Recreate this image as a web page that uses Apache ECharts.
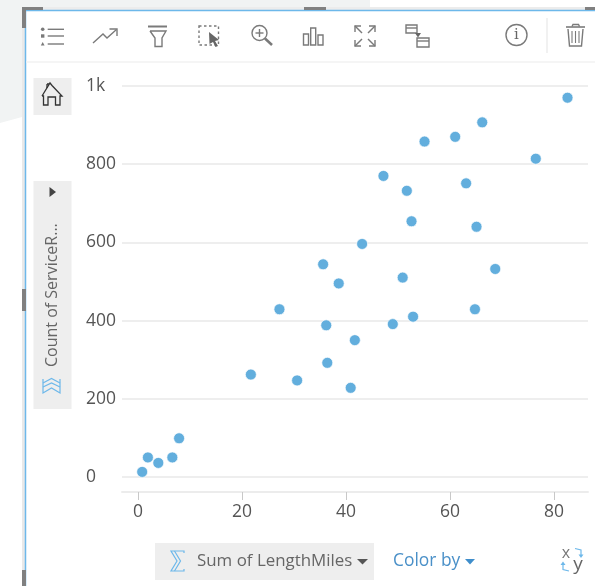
<!DOCTYPE html>
<html><head><meta charset="utf-8">
<style>html,body{margin:0;padding:0;background:#fff}#c{width:595px;height:586px;filter:blur(0.4px)}</style>
<script src="https://cdn.jsdelivr.net/npm/echarts@6/dist/echarts.min.js"></script>
</head><body><div id="c"></div>
<script>
const lengthMiles = [0.8,1.9,3.9,6.6,7.9,21.7,27.2,30.6,35.6,36.2,36.4,38.6,40.9,41.7,43.1,47.2,49,50.9,51.7,52.6,52.9,55.1,61,63.1,64.8,65.1,66.2,68.7,76.5,82.6];
const serviceCounts = [13,50,36,50,99,262,429,247,544,388,292,495,228,350,596,770,391,510,732,654,410,858,870,751,429,640,907,532,814,970];
const xTicks = [0,20,40,60,80];
const yTicks = [0,200,400,600,800,1000];
const yAxisTitle = 'Count of ServiceR...';
const xAxisTitle = 'Sum of LengthMiles';
const colorByLabel = 'Color by';

const GREY='#7a7a7a', BLUE='#6db8ea';
const stroke=(w,c)=>({stroke:c||GREY,lineWidth:w||1.4,fill:null});
const g=[];
const rect=(x,y,w,h,fill)=>g.push({type:'rect',silent:true,shape:{x,y,width:w,height:h},style:{fill}});
const line=(x1,y1,x2,y2,c,w)=>g.push({type:'line',silent:true,shape:{x1,y1,x2,y2},style:{stroke:c||GREY,lineWidth:w||1.4}});
const poly=(pts,c,w)=>g.push({type:'polyline',silent:true,shape:{points:pts},style:stroke(w,c)});
const shape=(pts,fill)=>g.push({type:'polygon',silent:true,shape:{points:pts},style:{fill}});
const box=(x,y,w,h,c,wd)=>g.push({type:'rect',silent:true,shape:{x,y,width:w,height:h},style:stroke(wd,c)});
const circ=(cx,cy,r,c,w)=>g.push({type:'circle',silent:true,shape:{cx,cy,r},style:stroke(w,c)});
const dot=(cx,cy,r,fill)=>g.push({type:'circle',silent:true,shape:{cx,cy,r},style:{fill}});
const text=(x,y,t,size,fill,extra,align)=>g.push(Object.assign({type:'text',silent:true,x,y,style:{text:t,fontFamily:'"Open Sans"',fontSize:size,fill,align:align||'left',verticalAlign:'middle'}},extra||{}));

// page background + selection frame
shape([[0,0],[370,0],[370,7],[22,7],[22,117],[0,123]],'#f1f3f3');
rect(22,7,573,3,'#ececec');
rect(22,7,3,579,'#e9e9e9');
line(25.5,10,25.5,586,BLUE,1.5);
line(25,10.5,595,10.5,BLUE,1.5);
[[22,7,21,3],[22,7,4,21],[22,289,4,22],[22,570,4,16],[304,7,22,3],[585,7,10,3]].forEach(r=>rect(r[0],r[1],r[2],r[3],'#808080'));
line(26,62,595,62,'#f2f2f2',1.5);
line(547,18,547,53,'#ededed',1.5);

// toolbar: list
dot(42.7,29.3,1.8,GREY);rect(41,34.3,3.4,3.4,GREY);shape([[42.7,42],[44.6,45.5],[40.8,45.5]],GREY);
[29.3,36,44].forEach(y=>line(47.7,y,64,y));
// trend
poly([[93,43],[103,34],[107,38],[116.5,29.5]]);poly([[109.5,29],[117,29],[117,36]]);
// funnel
line(148,26.5,167,26.5,GREY,2);
poly([[150,31],[166,31],[162,38],[162,46.5],[155,46.5],[155,38],[150,31]]);
// select
g.push({type:'rect',silent:true,shape:{x:199,y:26,width:19.5,height:19},style:{stroke:GREY,lineWidth:1.4,fill:null,lineDash:[2.5,2.5]}});
shape([[209,32],[219,40],[215,41],[218,46],[215.5,47],[213,42],[209.5,44]],'#666');
// zoom
circ(259.5,33,7.5);line(265,38.5,272,45,GREY,2.5);line(255.5,33,263.5,33);line(259.5,29,259.5,37);
// bars
box(303.5,34,5,11);box(310.7,28,5,17);box(318,35,5,10);
// expand
[[355,26,1,1],[375,26,-1,1],[355,46,1,-1],[375,46,-1,-1]].forEach(a=>{
  const [x,y,dx,dy]=a;
  poly([[x+6*dx,y],[x,y],[x,y+6*dy]]);line(x,y,x+7*dx,y+7*dy);
});
// filter by selection
box(406,25,11,8);line(406,28,417,28);box(417,38,12,9);line(417,41,429,41);
shape([[415,33],[421,33],[418,37.5]],'#666');
// info
circ(516.5,35,10.5);
g.push({type:'text',silent:true,x:516.5,y:35,style:{text:'i',fontFamily:'"DejaVu Serif"',fontSize:15,fill:'#666',align:'center',verticalAlign:'middle'}});
// trash
line(566,27,585,27,GREY,1.6);poly([[572,26.5],[573,24.5],[578.5,24.5],[579.5,26.5]]);
poly([[568,29],[569.5,46],[581.5,46],[583,29]]);
[572,575.5,579].forEach(x=>line(x,31,x,43,GREY,1.1));

// home
rect(33.5,78,38,37,'#eeeeee');
poly([[42,96],[50,83],[52,85.5],[62,96],[60,96],[60,105],[55.5,105],[55.5,97],[48,97],[48,105],[43.5,105],[43.5,96],[42,96]],'#333',1.3);
line(47,84,47,88,'#333',1.3);line(47,84,49,84,'#333',1.3);

// y field
rect(33.5,181,38,228,'#eeeeee');
shape([[49.5,187],[49.5,197],[56,192]],'#444');
text(52,367,yAxisTitle,16,'#666',{rotation:Math.PI/2});
poly([[43,379],[43,393],[51.5,388],[60,393],[60,379]],BLUE,1.2);
poly([[43,383],[51.5,378.5],[60,383]],BLUE,1.2);
poly([[43,387],[51.5,383],[60,387]],BLUE,1.2);

// x field
rect(155,543,219,37,'#eeeeee');
poly([[184,553],[184,551],[171,551],[177,561],[171,571],[184,571],[184,569]],BLUE,1.2);
poly([[174.5,551],[180.5,561],[174.5,571]],BLUE,1.2);
text(197,561,xAxisTitle,16.9,'#666');
shape([[357,559],[368,559],[362.5,564.5]],'#555');

// colour by
text(393,561,colorByLabel,17.4,'#4a90c8');
shape([[465,559],[475,559],[470,564.5]],'#3f8ecb');

// swap axes
text(566,553,'x',16,'#777',null,'center');
text(578,565,'y',19,'#666',null,'center');
poly([[575,548.5],[581,550],[581,556]],BLUE,1.2);shape([[578.5,554.5],[583.5,554.5],[581,558]],BLUE);
poly([[569,571],[563,569.5],[563,564]],BLUE,1.2);shape([[560.5,565],[565.5,565],[563,561.5]],BLUE);

const chart=echarts.init(document.getElementById('c'),null,{renderer:'canvas'});
const labelStyle={color:'#555',fontSize:17.5,fontFamily:'"Open Sans"'};
chart.setOption({
  animation:false,
  backgroundColor:'#fff',
  grid:{left:122,right:7,top:86,bottom:94,containLabel:false},
  xAxis:{
    type:'value',min:-3.08,max:86.54,
    axisLine:{show:true,onZero:false,lineStyle:{color:'#ececec',width:2}},
    axisTick:{show:true,length:8,customValues:xTicks,lineStyle:{color:'#c8c8c8',width:1}},
    axisLabel:Object.assign({},labelStyle,{customValues:xTicks,margin:11}),
    splitLine:{show:false}
  },
  yAxis:{
    type:'value',min:-38.4,max:1000,
    axisLine:{show:false},
    axisTick:{show:false,customValues:yTicks},
    axisLabel:Object.assign({},labelStyle,{customValues:yTicks,align:'left',margin:36,formatter:v=>v>=1000?(v/1000)+'k':String(v)}),
    splitLine:{show:true,lineStyle:{color:'#eeeeee',width:2}}
  },
  series:[{
    type:'scatter',
    data:lengthMiles.map((x,i)=>[x,serviceCounts[i]]),
    symbolSize:11,clip:false,
    itemStyle:{color:'#62aedd',borderColor:'rgba(255,255,255,0.7)',borderWidth:1,opacity:1}
  }],
  graphic:{elements:g}
});
</script></body></html>
